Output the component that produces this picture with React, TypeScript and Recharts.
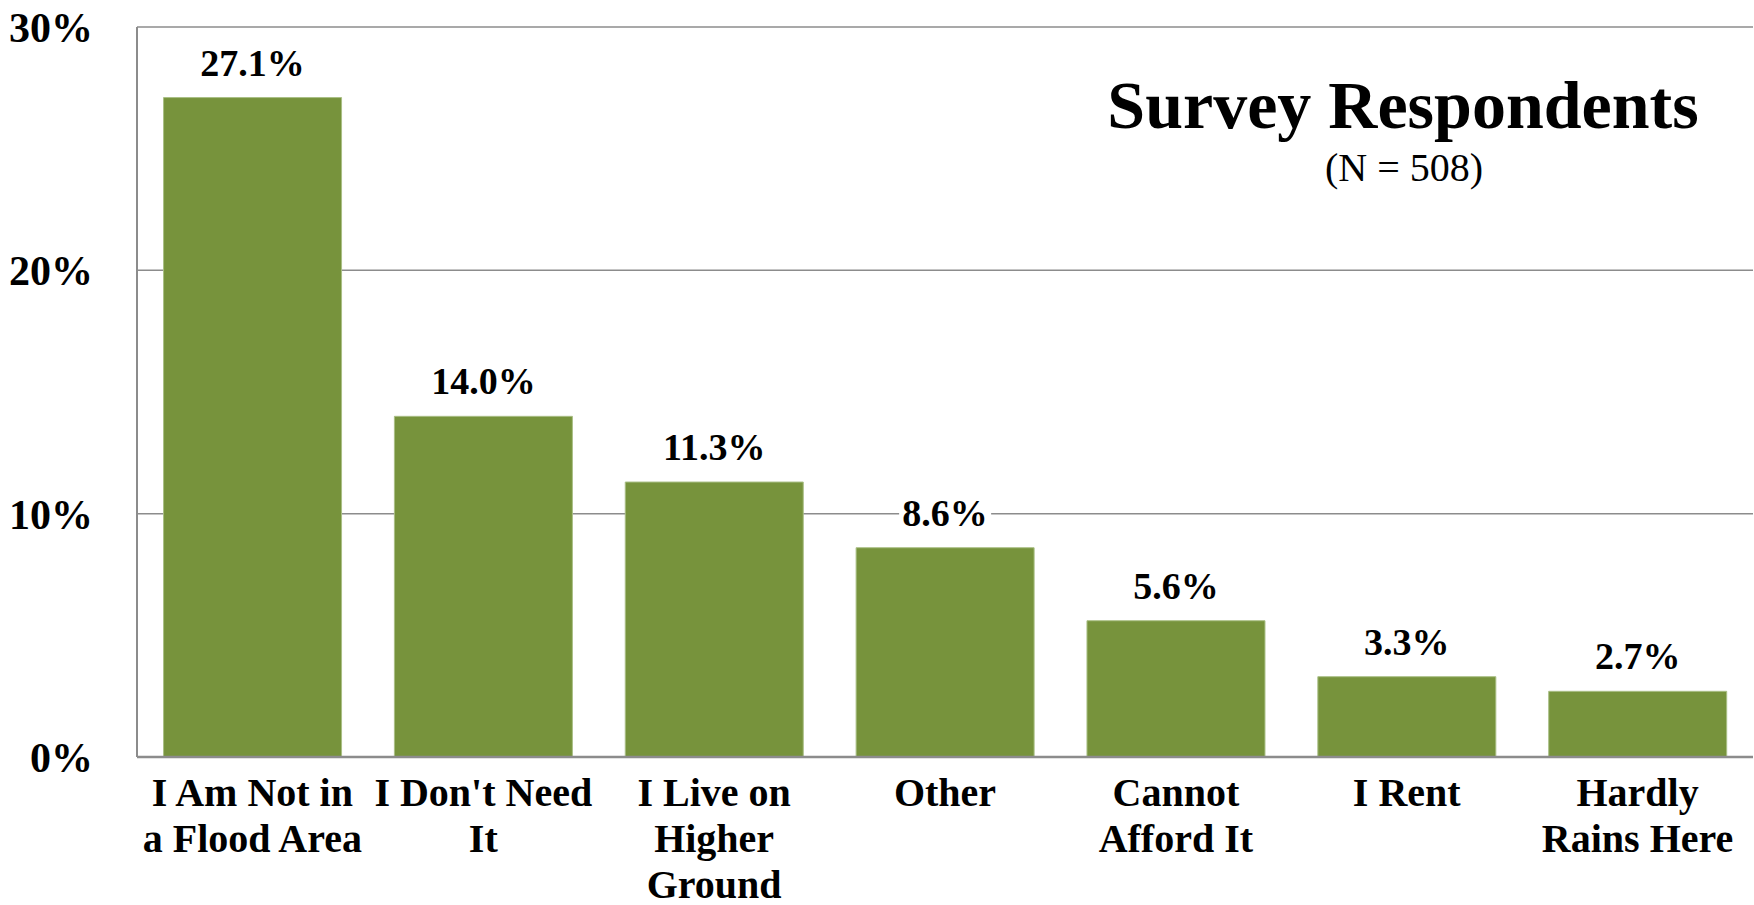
import React from 'react'
import { BarChart, Bar, XAxis, YAxis, CartesianGrid, LabelList } from 'recharts'

const categories = [
  'I Am Not in\na Flood Area',
  "I Don't Need\nIt",
  'I Live on\nHigher\nGround',
  'Other',
  'Cannot\nAfford It',
  'I Rent',
  'Hardly\nRains Here',
]
const shares = [27.1, 14.0, 11.3, 8.6, 5.6, 3.3, 2.7]
const yTicks = [0, 10, 20, 30]

const TITLE = 'Survey Respondents'
const SUBTITLE = '(N = 508)'

const FONT = '"Liberation Serif", "Times New Roman", serif'
const GREEN = '#77933c'
const GRID = '#8c8c8c'

const data = categories.map((name, i) => ({ name, share: shares[i] }))

const CategoryTick = ({ x, y, payload }: any) => {
  const lines = String(payload.value).split('\n')
  return (
    <text x={x} y={y} textAnchor="middle" fill="#000" style={{ fontFamily: FONT, fontSize: 40, fontWeight: 700 }}>
      {lines.map((line, i) => (
        <tspan key={i} x={x} dy={i === 0 ? 49 : 46}>
          {line}
        </tspan>
      ))}
    </text>
  )
}

const ValueLabel = ({ x, y, width, value }: any) => {
  const cx = x + width / 2
  const text = `${Number(value).toFixed(1)}%`
  const w = text.length * 19 + 16
  return (
    <g>
      <rect x={cx - w / 2} y={y - 57} width={w} height={42} fill="#fff" />
      <text x={cx} y={y - 22} textAnchor="middle" fill="#000" style={{ fontFamily: FONT, fontSize: 38, fontWeight: 700 }}>
        {text}
      </text>
    </g>
  )
}

export default function App() {
  return (
    <div style={{ position: 'absolute', left: 0, top: 0, width: 1754, height: 905, background: '#fff' }}>
      <BarChart
        width={1754}
        height={905}
        data={data}
        margin={{ top: 27, right: 1, left: 0, bottom: 0 }}
        barCategoryGap="11.5%"
      >
        <CartesianGrid vertical={false} stroke={GRID} strokeWidth={1.5} />
        <XAxis
          dataKey="name"
          interval={0}
          axisLine={{ stroke: GRID, strokeWidth: 2.5 }}
          tickLine={false}
          tickSize={0}
          tickMargin={0}
          height={148}
          tick={<CategoryTick />}
        />
        <YAxis
          domain={[0, 30]}
          ticks={yTicks}
          width={137}
          axisLine={{ stroke: GRID, strokeWidth: 2 }}
          tickLine={false}
          tickSize={0}
          tickMargin={44}
          tickFormatter={(v: number) => `${v}%`}
          tick={{ fill: '#000', fontFamily: FONT, fontSize: 42, fontWeight: 700 }}
        />
        <YAxis
          yAxisId="frame"
          orientation="right"
          width={0}
          tick={false}
          tickLine={false}
          axisLine={{ stroke: GRID, strokeWidth: 2 }}
        />
        <Bar dataKey="share" fill={GREEN} stroke="#a9bf85" strokeWidth={1} isAnimationActive={false}>
          <LabelList dataKey="share" content={<ValueLabel />} />
        </Bar>
      </BarChart>
      <svg width={1754} height={905} style={{ position: 'absolute', left: 0, top: 0, pointerEvents: 'none' }}>
        <text x={1403} y={128} textAnchor="middle" fill="#000" style={{ fontFamily: FONT, fontSize: 68, fontWeight: 700 }}>
          {TITLE}
        </text>
        <text x={1404} y={181} textAnchor="middle" fill="#000" style={{ fontFamily: FONT, fontSize: 40 }}>
          {SUBTITLE}
        </text>
      </svg>
    </div>
  )
}
